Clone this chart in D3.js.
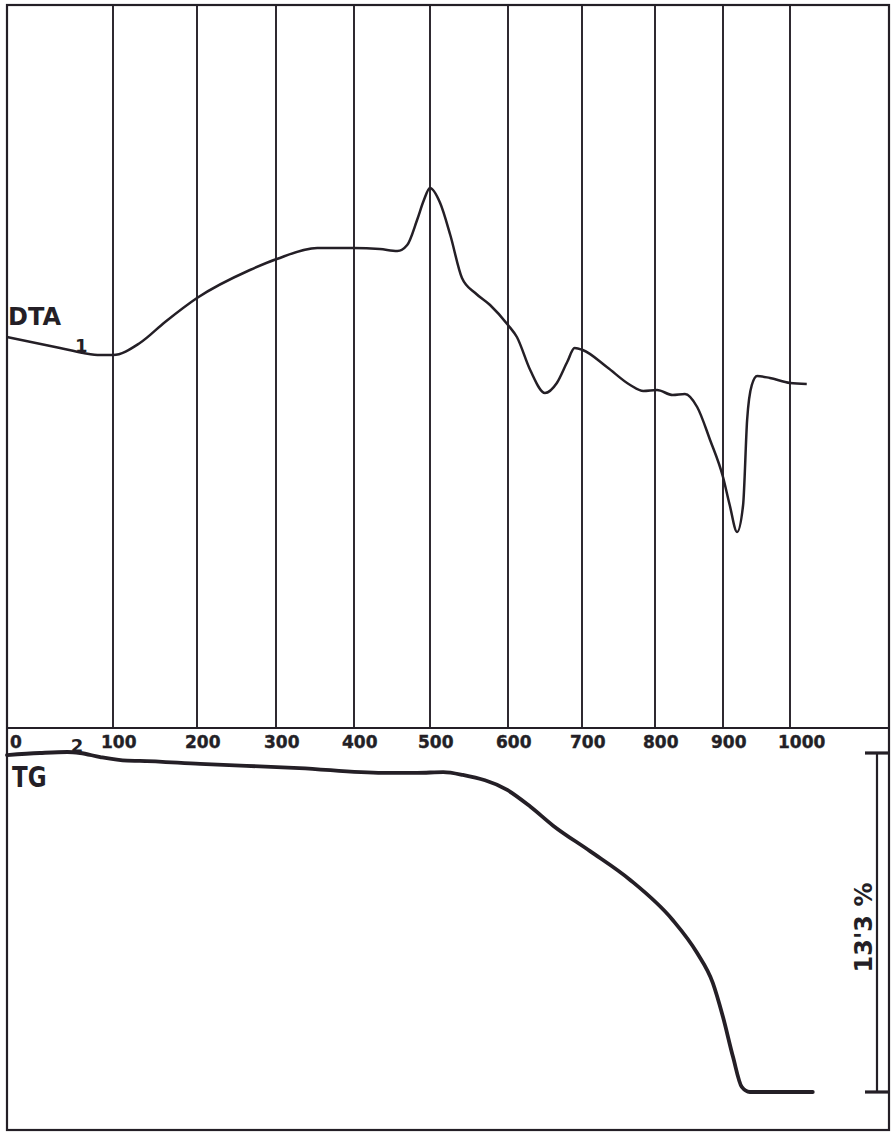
<!DOCTYPE html>
<html>
<head>
<meta charset="utf-8">
<script src="https://cdn.jsdelivr.net/npm/d3@7"></script>
<style>
  html, body { margin: 0; padding: 0; background: #fff; }
  svg { display: block; }
</style>
</head>
<body>
<svg class="thermo"></svg>
<script>
// Temperature axis (°C), shared by both panels.
const tempTicks = [0, 100, 200, 300, 400, 500, 600, 700, 800, 900, 1000];
const tickLabels = ['0', '100', '200', '300', '400', '500', '600', '700', '800', '900', '1000'];

// DTA trace: temperature (°C) and signal (arbitrary units, up = exothermic).
const dtaTemp = [0, 50, 72, 88, 100, 132, 162, 200, 267, 301, 353, 399, 434, 457, 470, 483,
  492, 500, 513, 526, 541, 558, 577, 600, 612, 630, 650, 666, 680, 690, 701, 734, 766, 784,
  803, 826, 844, 862, 881, 900, 910, 921, 930, 936, 943, 951, 970, 1000, 1025];
const dtaSignal = [6.3, 5.2, 4.7, 4.5, 4.5, 5.7, 7.8, 10.2, 13.0, 14.1, 15.2, 15.2, 15.1, 14.9, 15.5, 18.0,
  20.0, 21.2, 19.7, 16.5, 12.2, 10.7, 9.5, 7.5, 6.3, 3.0, 0.7, 1.7, 3.8, 5.2, 5.0, 3.3, 1.5, 0.9,
  1.0, 0.5, 0.6, -0.7, -4.0, -7.7, -10.5, -13.2, -10.5, -2.0, 1.5, 2.4, 2.2, 1.7, 1.6];

// TG trace: temperature (°C) and mass loss (%).
const tgTemp = [0, 31, 57, 69, 88, 117, 132, 204, 330, 438, 483, 517, 542, 599, 630, 661, 711,
  766, 826, 862, 885, 900, 915, 928, 940, 960, 1034];
const tgLoss = [0.08, 0.0, -0.04, 0.0, 0.16, 0.3, 0.31, 0.43, 0.59, 0.78, 0.78, 0.75, 0.86, 1.45, 2.1,
  2.85, 3.85, 4.98, 6.55, 7.85, 9.02, 10.36, 11.93, 13.10, 13.3, 13.3, 13.3];

// Small peak numbers written on the curves.
const curveNotes = [
  { panel: 'dta', text: '1', temp: 70 },
  { panel: 'tg', text: '2', temp: 66 },
];
const totalLoss = 13.3;

const width = 893;
const height = 1134;
const frame = { left: 7, top: 5, right: 889, bottom: 1130, split: 728 };
// The furnace scale is not linear: pixel position of each 100 °C gridline.
const gridPx = [7, 113, 197, 276, 354, 430, 508, 582, 655, 723, 790];
const ink = '#241f26';

const svg = d3.select('.thermo')
  .attr('width', width)
  .attr('height', height)
  .attr('viewBox', `0 0 ${width} ${height}`);

const xScale = d3.scaleLinear().domain(tempTicks).range(gridPx);
const yDta = d3.scaleLinear().domain([-32.8, 39.5]).range([frame.split, frame.top]);
const yTg = d3.scaleLinear().domain([0, totalLoss]).range([753, 1092]);

// Vertical gridlines in the DTA panel.
svg.append('g')
  .selectAll('line')
  .data(tempTicks.slice(1))
  .join('line')
  .attr('x1', (d) => xScale(d))
  .attr('x2', (d) => xScale(d))
  .attr('y1', frame.top)
  .attr('y2', frame.split)
  .attr('stroke', ink)
  .attr('stroke-width', 1.9);

// Outer frame and the dividing line between the panels.
svg.append('rect')
  .attr('x', frame.left)
  .attr('y', frame.top)
  .attr('width', frame.right - frame.left)
  .attr('height', frame.bottom - frame.top)
  .attr('fill', 'none')
  .attr('stroke', ink)
  .attr('stroke-width', 2.2);

svg.append('line')
  .attr('x1', frame.left)
  .attr('x2', frame.right)
  .attr('y1', frame.split)
  .attr('y2', frame.split)
  .attr('stroke', ink)
  .attr('stroke-width', 2.2);

// Temperature labels sit just under the divider, slightly left of each gridline.
svg.append('g')
  .selectAll('text')
  .data(tempTicks)
  .join('text')
  .attr('x', (d) => Math.max(xScale(d) - 12, frame.left + 3))
  .attr('y', frame.split + 20)
  .attr('font-family', 'DejaVu Sans, sans-serif')
  .attr('font-weight', 'bold')
  .attr('font-size', 17)
  .attr('fill', ink)
  .attr('stroke', ink)
  .attr('stroke-width', 0.4)
  .text((d, i) => tickLabels[i]);

// Curves.
const dtaLine = d3.line()
  .x((d, i) => xScale(dtaTemp[i]))
  .y((d) => yDta(d))
  .curve(d3.curveMonotoneX);

svg.append('path')
  .attr('d', dtaLine(dtaSignal))
  .attr('fill', 'none')
  .attr('stroke', ink)
  .attr('stroke-width', 2.5)
  .attr('stroke-linejoin', 'round');

const tgLine = d3.line()
  .x((d, i) => xScale(tgTemp[i]))
  .y((d) => yTg(d))
  .curve(d3.curveMonotoneX);

svg.append('path')
  .attr('d', tgLine(tgLoss))
  .attr('fill', 'none')
  .attr('stroke', ink)
  .attr('stroke-width', 3.8)
  .attr('stroke-linejoin', 'round')
  .attr('stroke-linecap', 'round');

// Panel names.
svg.append('text')
  .attr('x', frame.left + 1)
  .attr('y', 325)
  .attr('font-family', 'DejaVu Sans, sans-serif')
  .attr('font-weight', 'bold')
  .attr('font-size', 24)
  .attr('fill', ink)
  .text('DTA');

svg.append('text')
  .attr('transform', `translate(${frame.left + 5}, 787) scale(1, 1.2)`)
  .attr('font-family', 'DejaVu Sans, sans-serif')
  .attr('font-weight', 'bold')
  .attr('font-size', 23)
  .attr('fill', ink)
  .text('TG');

// Numbers resting on the curves.
const valueAt = (temps, vals, t) => d3.scaleLinear().domain(temps).range(vals)(t);
svg.append('g')
  .selectAll('text')
  .data(curveNotes)
  .join('text')
  .attr('x', (d) => xScale(d.temp))
  .attr('y', (d) => (d.panel === 'dta'
    ? yDta(valueAt(dtaTemp, dtaSignal, d.temp)) - 1
    : yTg(valueAt(tgTemp, tgLoss, d.temp)) - 1))
  .attr('text-anchor', 'middle')
  .attr('font-family', 'DejaVu Sans, sans-serif')
  .attr('font-weight', 'bold')
  .attr('font-size', (d) => (d.panel === 'dta' ? 18 : 18))
  .attr('fill', ink)
  .text((d) => d.text);

// Mass-loss bracket on the right of the TG panel.
const bracketX = 877;
const bracket = svg.append('g').attr('stroke', ink);
bracket.append('line')
  .attr('x1', bracketX)
  .attr('x2', bracketX)
  .attr('y1', yTg(0))
  .attr('y2', yTg(totalLoss))
  .attr('stroke-width', 2.2);
bracket.selectAll('line.tick')
  .data([0, totalLoss])
  .join('line')
  .attr('class', 'tick')
  .attr('x1', bracketX - 12)
  .attr('x2', frame.right)
  .attr('y1', (d) => yTg(d))
  .attr('y2', (d) => yTg(d))
  .attr('stroke-width', 3.2);

svg.append('text')
  .attr('transform', `translate(${bracketX - 5}, ${yTg(totalLoss / 2) + 5}) rotate(-90)`)
  .attr('text-anchor', 'middle')
  .attr('font-family', 'DejaVu Sans, sans-serif')
  .attr('font-weight', 'bold')
  .attr('font-size', 24)
  .attr('fill', ink)
  .text(`${String(totalLoss).replace('.', '\'')} %`);
</script>
</body>
</html>
